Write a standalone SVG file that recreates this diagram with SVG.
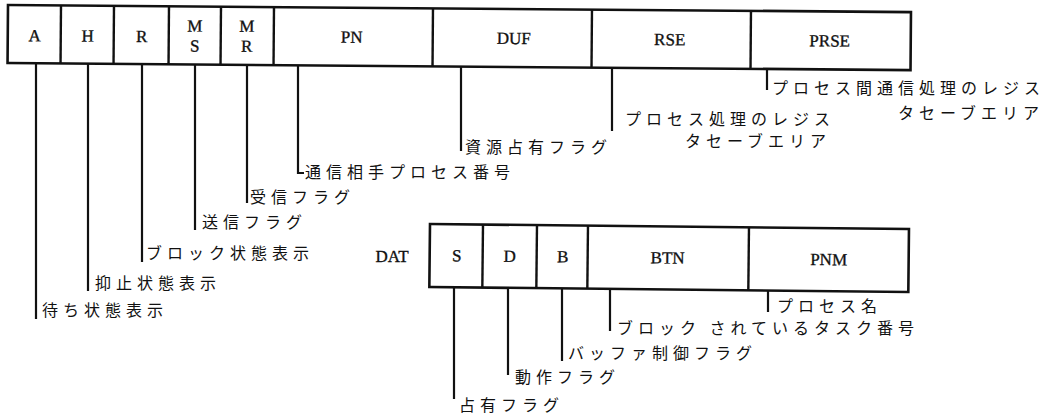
<svg xmlns="http://www.w3.org/2000/svg" width="1054" height="414" viewBox="0 0 1054 414">
<style>
.box{fill:none;stroke:#111;stroke-width:2.6}
.div{stroke:#111;stroke-width:2.4}
.con{stroke:#111;stroke-width:2.2;fill:none}
.f{font-family:"Liberation Serif","DejaVu Serif",serif;font-size:17px;fill:#111;stroke:#111;stroke-width:0.35;text-anchor:middle}
.j{font-family:"Noto Sans CJK JP","Noto Sans CJK SC",sans-serif;font-size:16px;fill:#111;letter-spacing:5px}
</style>
<rect width="1054" height="414" fill="#fff"/>
<g id="reg-top" transform="rotate(0.45 8 5)">
<rect class="box" x="8" y="5" width="903" height="58"/>
<line class="div" x1="61" y1="5" x2="61" y2="63"/>
<line class="div" x1="114" y1="5" x2="114" y2="63"/>
<line class="div" x1="169" y1="5" x2="169" y2="63"/>
<line class="div" x1="221" y1="5" x2="221" y2="63"/>
<line class="div" x1="274" y1="5" x2="274" y2="63"/>
<line class="div" x1="433" y1="5" x2="433" y2="63"/>
<line class="div" x1="592" y1="5" x2="592" y2="63"/>
<line class="div" x1="751" y1="5" x2="751" y2="63"/>
<g id="f-A"><text class="f" x="35" y="41">A</text></g>
<g id="f-H"><text class="f" x="88" y="41">H</text></g>
<g id="f-R"><text class="f" x="142" y="41">R</text></g>
<g id="f-MS"><text class="f" x="195" y="30">M</text><text class="f" x="195" y="50">S</text></g>
<g id="f-MR"><text class="f" x="247" y="30">M</text><text class="f" x="247" y="50">R</text></g>
<g id="f-PN"><text class="f" x="352" y="40">PN</text></g>
<g id="f-DUF"><text class="f" x="514" y="40">DUF</text></g>
<g id="f-RSE"><text class="f" x="670" y="40">RSE</text></g>
<g id="f-PRSE"><text class="f" x="830" y="40">PRSE</text></g>
</g>
<g id="reg-dat">
<text class="f" x="392" y="262">DAT</text>
<g transform="rotate(0.6 430 224)">
<rect class="box" x="430" y="224" width="479" height="63"/>
<line class="div" x1="483" y1="224" x2="483" y2="287"/>
<line class="div" x1="537" y1="224" x2="537" y2="287"/>
<line class="div" x1="588" y1="224" x2="588" y2="287"/>
<line class="div" x1="749" y1="224" x2="749" y2="287"/>
<g id="f-S"><text class="f" x="457" y="261">S</text></g>
<g id="f-D"><text class="f" x="510" y="261">D</text></g>
<g id="f-B"><text class="f" x="563" y="261">B</text></g>
<g id="f-BTN"><text class="f" x="668" y="261">BTN</text></g>
<g id="f-PNM"><text class="f" x="829" y="261">PNM</text></g>
</g>
</g>
<g id="connectors">
<line class="con" x1="36" y1="63" x2="36" y2="319"/>
<line class="con" x1="88" y1="64" x2="88" y2="291"/>
<line class="con" x1="142" y1="64" x2="142" y2="262"/>
<line class="con" x1="195" y1="64" x2="195" y2="230"/>
<line class="con" x1="247" y1="65" x2="247" y2="203"/>
<polyline class="con" points="298,65 298,173 304,173"/>
<line class="con" x1="461" y1="66" x2="461" y2="151"/>
<line class="con" x1="612" y1="67" x2="612" y2="131"/>
<line class="con" x1="767" y1="69" x2="767" y2="90"/>
<line class="con" x1="454" y1="287" x2="454" y2="399"/>
<line class="con" x1="508" y1="288" x2="508" y2="375"/>
<line class="con" x1="562" y1="288" x2="562" y2="361"/>
<line class="con" x1="610" y1="289" x2="610" y2="331"/>
<line class="con" x1="768" y1="290" x2="768" y2="312"/>
</g>
<g id="labels">
<g id="l-A"><text class="j" x="42" y="316">待ち状態表示</text></g>
<g id="l-H"><text class="j" x="95" y="289">抑止状態表示</text></g>
<g id="l-R"><text class="j" x="146" y="259">ブロック状態表示</text></g>
<g id="l-MS"><text class="j" x="202" y="228">送信フラグ</text></g>
<g id="l-MR"><text class="j" x="250" y="203">受信フラグ</text></g>
<g id="l-PN"><text class="j" x="305" y="178">通信相手プロセス番号</text></g>
<g id="l-DUF"><text class="j" x="465" y="153">資源占有フラグ</text></g>
<g id="l-RSE"><text class="j" x="625" y="125">プロセス処理のレジス</text><text class="j" x="685" y="147">タセーブエリア</text></g>
<g id="l-PRSE"><text class="j" x="772" y="94">プロセス間通信処理のレジス</text><text class="j" x="898" y="119">タセーブエリア</text></g>
<g id="l-S"><text class="j" x="459" y="411">占有フラグ</text></g>
<g id="l-D"><text class="j" x="515" y="383">動作フラグ</text></g>
<g id="l-B"><text class="j" x="568" y="359">バッファ制御フラグ</text></g>
<g id="l-BTN"><text class="j" x="617" y="334">ブロック されているタスク番号</text></g>
<g id="l-PNM"><text class="j" x="777" y="312">プロセス名</text></g>
</g>
</svg>
